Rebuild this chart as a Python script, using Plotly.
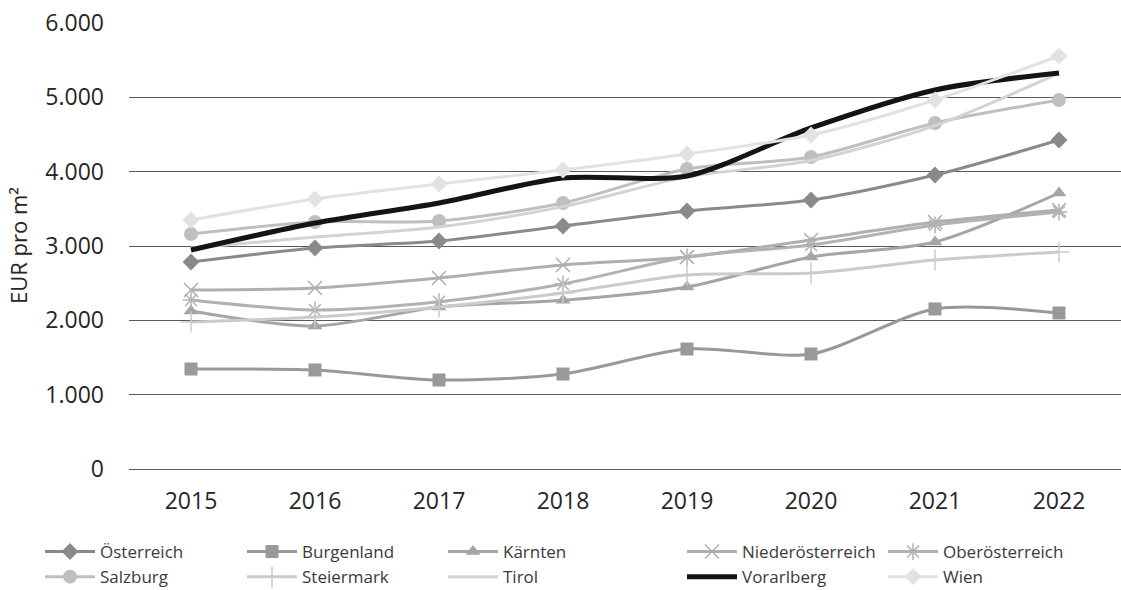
import plotly.graph_objects as go

years = ["2015", "2016", "2017", "2018", "2019", "2020", "2021", "2022"]

oesterreich = [2785, 2973, 3067, 3270, 3471, 3619, 3955, 4426]
burgenland = [1345, 1332, 1197, 1278, 1614, 1547, 2153, 2099]
kaernten = [2126, 1924, 2179, 2270, 2449, 2852, 3054, 3713]
niederoesterreich = [2408, 2435, 2570, 2745, 2852, 3081, 3323, 3484]
oberoesterreich = [2274, 2139, 2250, 2489, 2852, 3014, 3283, 3457]
salzburg = [3162, 3323, 3337, 3579, 4036, 4198, 4655, 4964]
steiermark = [1978, 2045, 2180, 2368, 2610, 2637, 2812, 2919]
tirol = [2973, 3121, 3256, 3530, 3930, 4150, 4620, 5327]
vorarlberg = [2946, 3309, 3579, 3915, 3942, 4588, 5099, 5327]
wien = [3350, 3632, 3834, 4023, 4238, 4494, 4964, 5556]

FONT = "Open Sans"

# name, values, line colour, line width, marker symbol, marker size, legend id
series = [
    ("Österreich", oesterreich, "#8a8a8a", 3, "diamond", 13, "legend"),
    ("Burgenland", burgenland, "#999999", 3, "square", 13, "legend2"),
    ("Kärnten", kaernten, "#a5a5a5", 3, "triangle-up", 13, "legend3"),
    ("Niederösterreich", niederoesterreich, "#afafaf", 3, "x-thin-open", 14, "legend4"),
    ("Oberösterreich", oberoesterreich, "#b2b2b2", 3, "asterisk-open", 14, "legend5"),
    ("Salzburg", salzburg, "#bfbfbf", 3, "circle", 14, "legend"),
    ("Steiermark", steiermark, "#cbcbcb", 3, "cross-thin-open", 15, "legend2"),
    ("Tirol", tirol, "#d3d3d3", 3, None, 0, "legend3"),
    ("Vorarlberg", vorarlberg, "#141414", 5, None, 0, "legend4"),
    ("Wien", wien, "#e2e2e2", 3, "diamond", 13, "legend5"),
]

fig = go.Figure()
for i, (name, vals, col, lw, sym, ms, leg) in enumerate(series):
    kw = dict(mode="lines")
    if sym:
        kw["mode"] = "lines+markers"
        open_sym = sym.endswith("-open")
        kw["marker"] = dict(
            symbol=sym, size=ms, color=col,
            line=dict(width=1.5 if open_sym else 0, color=col),
        )
    fig.add_trace(go.Scatter(
        x=years, y=vals, name=name,
        line=dict(color=col, width=lw, shape="spline", smoothing=0.8),
        legend=leg, legendgroup=name, showlegend=True,
        **kw,
    ))

# five legend columns, two entries each
col_x = [40, 242, 443, 682, 883]
legend_common = dict(
    orientation="v", xref="container", yref="container",
    xanchor="left", yanchor="top", y=1 - 534 / 590,
    font=dict(family=FONT, size=17, color="#3a3a3a"),
    bgcolor="rgba(0,0,0,0)", tracegroupgap=1, itemwidth=50,
    traceorder="normal",
)
legends = {}
for k, xpx in enumerate(col_x):
    key = "legend" if k == 0 else f"legend{k + 1}"
    legends[key] = dict(x=xpx / 1121, **legend_common)

fig.update_layout(
    width=1121, height=590,
    margin=dict(l=129, r=0, t=23, b=121, autoexpand=False),
    paper_bgcolor="white", plot_bgcolor="white",
    separators=",.",
    font=dict(family=FONT, size=18, color="#262626"),
    xaxis=dict(
        type="category", range=[-0.5, 7.5],
        showgrid=False, showline=False, zeroline=False,
        ticks="", ticklabelstandoff=16,
        tickfont=dict(family=FONT, size=23, color="#262626"),
    ),
    yaxis=dict(
        range=[0, 6000], tickvals=[0, 1000, 2000, 3000, 4000, 5000, 6000],
        tickformat=",d", showgrid=True, gridcolor="#5a5a5a", gridwidth=1,
        zeroline=True, zerolinecolor="#5a5a5a", zerolinewidth=1,
        showline=False, ticks="", ticklabelstandoff=24,
        tickfont=dict(family=FONT, size=23, color="#262626"),
    ),
    annotations=[dict(
        text="EUR pro m²", xref="paper", yref="paper", x=0, y=0.5,
        xshift=-111, xanchor="center", yanchor="middle", textangle=-90,
        showarrow=False, font=dict(family=FONT, size=22, color="#262626"),
    )],
    **legends,
)

fig.write_html("out.html")
